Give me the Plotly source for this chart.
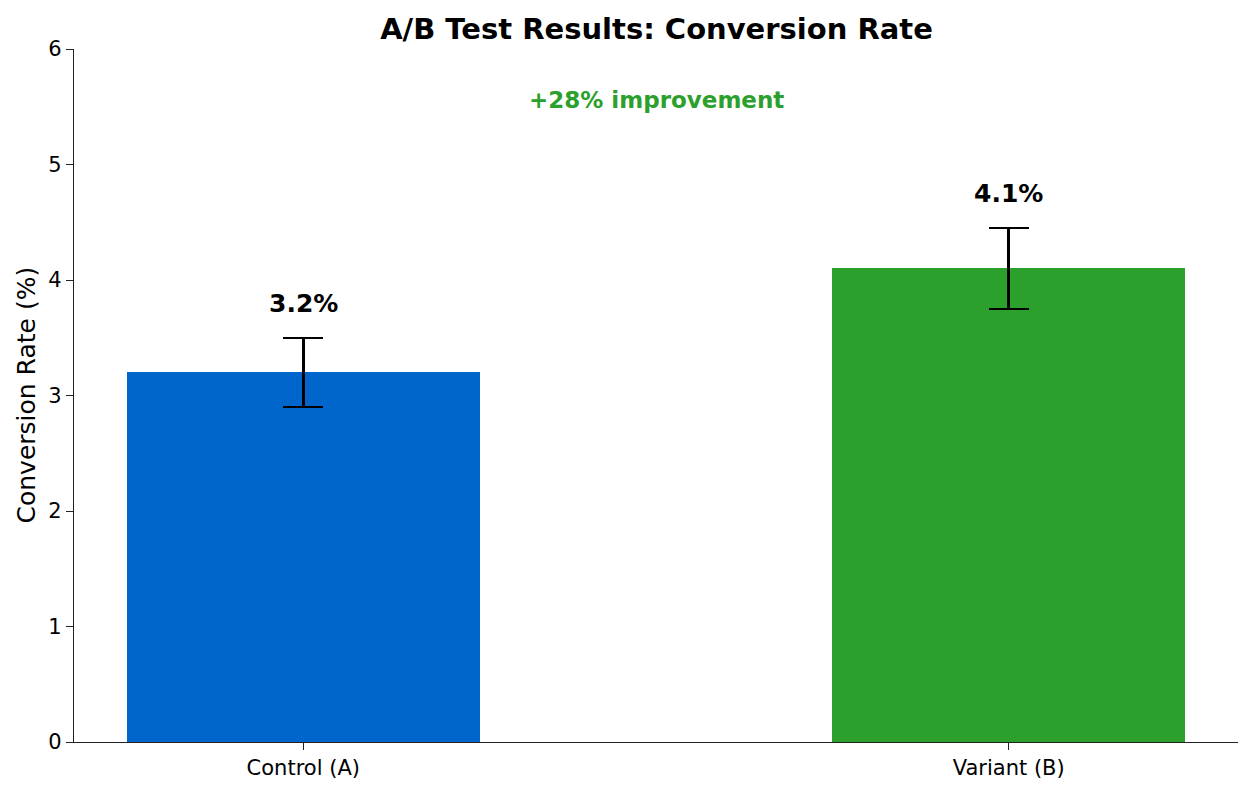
import plotly.graph_objects as go

categories = ["Control (A)", "Variant (B)"]
rates = [3.2, 4.1]
errors = [0.3, 0.35]
bar_colors = ["#0066CC", "#2CA02C"]
value_labels = ["3.2%", "4.1%"]
improvement_text = "+28% improvement"

# page body has an 8px margin; figure sized to fit the window
OFF = 8
W, H = 1252 - OFF, 792 - OFF
L, R, T, B = 74 - OFF, 14, 49 - OFF, 50
FONT = "DejaVu Sans"

x_pos = list(range(len(categories)))

fig = go.Figure()
fig.add_trace(go.Bar(
    x=x_pos, y=rates, width=0.5,
    marker=dict(color=bar_colors, line=dict(width=0)),
    error_y=dict(type="data", array=errors, visible=True,
                 color="black", thickness=2.5, width=20),
    showlegend=False,
))

annotations = []
for xi, v, e, lab in zip(x_pos, rates, errors, value_labels):
    annotations.append(dict(
        x=xi, y=v + e + 0.3, xref="x", yref="y", text=f"<b>{lab}</b>",
        showarrow=False, xanchor="center", yanchor="middle",
        font=dict(family=FONT, size=25, color="black"),
    ))
annotations.append(dict(
    x=0.5, y=5.56, xref="x", yref="y", text=f"<b>{improvement_text}</b>",
    showarrow=False, xanchor="center", yanchor="middle",
    font=dict(family=FONT, size=23, color="#2CA02C"),
))
plot_w = W - L - R
annotations.append(dict(
    x=(26 - 74) / plot_w, y=0.5, xref="paper", yref="paper",
    text="Conversion Rate (%)", textangle=-90, showarrow=False,
    xanchor="center", yanchor="middle",
    font=dict(family=FONT, size=25, color="black"),
))

fig.update_layout(
    width=W, height=H,
    margin=dict(l=L, r=R, t=T, b=B, autoexpand=False),
    paper_bgcolor="white", plot_bgcolor="white",
    font=dict(family=FONT, color="black"),
    title=dict(text="<b>A/B Test Results: Conversion Rate</b>",
               x=((379 + 934) / 2 - OFF) / W, xanchor="center", xref="container",
               y=1 - (29 - OFF) / H, yanchor="middle", yref="container",
               font=dict(family=FONT, size=29, color="black")),
    annotations=annotations,
    bargap=0,
)
fig.update_xaxes(
    range=[-0.325, 1.325], tickvals=x_pos, ticktext=categories,
    showline=True, linecolor="#222", linewidth=1.4, mirror=False,
    ticks="outside", ticklen=7, tickwidth=1.4, tickcolor="#222",
    showgrid=False, zeroline=False,
    tickfont=dict(family=FONT, size=21, color="black"),
)
fig.update_yaxes(
    range=[0, 6], dtick=1, tick0=0,
    showline=True, linecolor="#222", linewidth=1.4, mirror=False,
    ticks="outside", ticklen=7, tickwidth=1.4, tickcolor="#222",
    showgrid=False, zeroline=False,
    tickfont=dict(family=FONT, size=21, color="black"),
)

fig.write_html("out.html")
